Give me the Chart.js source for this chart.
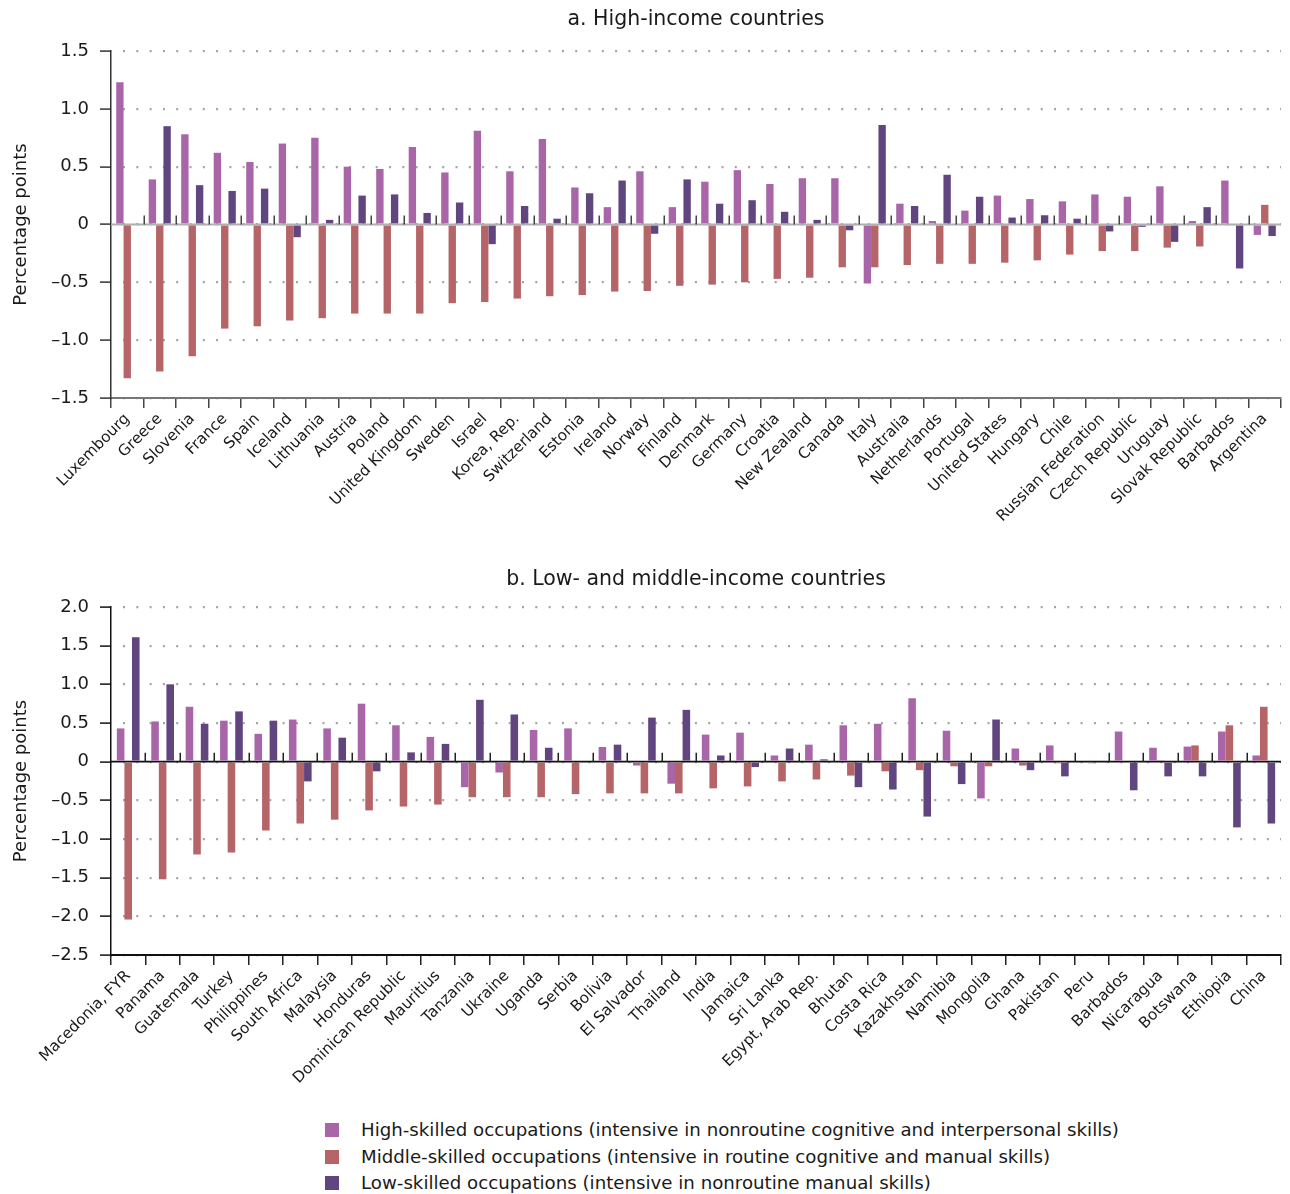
<!DOCTYPE html>
<html>
<head>
<meta charset="utf-8">
<script src="https://cdn.jsdelivr.net/npm/chart.js@4/dist/chart.umd.min.js"></script>
<style>
  html, body { margin: 0; padding: 0; background: #fff; }
  #wrap { position: relative; width: 1290px; height: 1194px; overflow: hidden; font-family: "DejaVu Sans", sans-serif; }
  #c1 { position: absolute; left: 0; top: 0; }
  #c2 { position: absolute; left: 0; top: 556px; }
  #legend { position: absolute; left: 325px; top: 1117px; font-size: 18.2px; color: #1a1a1a; }
  #legend div { height: 26.5px; line-height: 26.5px; white-space: nowrap; }
  #legend span.box { display: inline-block; width: 14px; height: 14px; margin-right: 22px; vertical-align: -1px; }
</style>
</head>
<body>
<div id="wrap">
  <canvas id="c1" width="1290" height="545"></canvas>
  <canvas id="c2" width="1290" height="540"></canvas>
  <div id="legend"></div>
</div>
<script>
// ---------- Data ----------
const highIncomeCountries = ["Luxembourg","Greece","Slovenia","France","Spain","Iceland","Lithuania","Austria","Poland","United Kingdom","Sweden","Israel","Korea, Rep.","Switzerland","Estonia","Ireland","Norway","Finland","Denmark","Germany","Croatia","New Zealand","Canada","Italy","Australia","Netherlands","Portugal","United States","Hungary","Chile","Russian Federation","Czech Republic","Uruguay","Slovak Republic","Barbados","Argentina"];
const highIncomeHigh   = [1.23,0.39,0.78,0.62,0.54,0.70,0.75,0.50,0.48,0.67,0.45,0.81,0.46,0.74,0.32,0.15,0.46,0.15,0.37,0.47,0.35,0.40,0.40,-0.51,0.18,0.03,0.12,0.25,0.22,0.20,0.26,0.24,0.33,0.03,0.38,-0.09];
const highIncomeMiddle = [-1.33,-1.27,-1.14,-0.90,-0.88,-0.83,-0.81,-0.77,-0.77,-0.77,-0.68,-0.67,-0.64,-0.62,-0.61,-0.58,-0.575,-0.53,-0.52,-0.50,-0.47,-0.46,-0.37,-0.37,-0.35,-0.34,-0.34,-0.33,-0.31,-0.26,-0.23,-0.23,-0.20,-0.19,-0.01,0.17];
const highIncomeLow    = [0.01,0.85,0.34,0.29,0.31,-0.11,0.04,0.25,0.26,0.10,0.19,-0.17,0.16,0.05,0.27,0.38,-0.08,0.39,0.18,0.21,0.11,0.04,-0.05,0.86,0.16,0.43,0.24,0.06,0.08,0.05,-0.06,-0.02,-0.15,0.15,-0.38,-0.10];

const lowMidCountries = ["Macedonia, FYR","Panama","Guatemala","Turkey","Philippines","South Africa","Malaysia","Honduras","Dominican Republic","Mauritius","Tanzania","Ukraine","Uganda","Serbia","Bolivia","El Salvador","Thailand","India","Jamaica","Sri Lanka","Egypt, Arab Rep.","Bhutan","Costa Rica","Kazakhstan","Namibia","Mongolia","Ghana","Pakistan","Peru","Barbados","Nicaragua","Botswana","Ethiopia","China"];
const lowMidHigh   = [0.43,0.52,0.71,0.53,0.36,0.545,0.43,0.75,0.47,0.32,-0.33,-0.14,0.41,0.43,0.19,-0.05,-0.285,0.35,0.375,0.08,0.22,0.47,0.49,0.82,0.40,-0.475,0.17,0.21,0.0,0.39,0.18,0.195,0.39,0.08];
const lowMidMiddle = [-2.04,-1.52,-1.20,-1.175,-0.89,-0.80,-0.75,-0.63,-0.58,-0.555,-0.46,-0.46,-0.46,-0.42,-0.41,-0.41,-0.41,-0.345,-0.32,-0.255,-0.23,-0.18,-0.125,-0.11,-0.06,-0.06,-0.05,-0.02,-0.02,0.0,0.01,0.21,0.47,0.71];
const lowMidLow    = [1.61,1.00,0.49,0.65,0.53,-0.255,0.31,-0.125,0.12,0.23,0.80,0.61,0.18,0.0,0.22,0.57,0.67,0.08,-0.07,0.17,0.03,-0.33,-0.36,-0.71,-0.29,0.545,-0.11,-0.19,0.0,-0.37,-0.19,-0.19,-0.85,-0.80];

const seriesNames = [
  "High-skilled occupations (intensive in nonroutine cognitive and interpersonal skills)",
  "Middle-skilled occupations (intensive in routine cognitive and manual skills)",
  "Low-skilled occupations (intensive in nonroutine manual skills)"
];
const seriesColors = ["#a866a8", "#b56468", "#60457f"];

const FONT = "DejaVu Sans";

// ---------- plugin: zero line + boundary ticks ----------
const zeroLinePlugin = {
  id: 'zeroLine',
  beforeDatasetsDraw(chart, args, opts) {
    const {ctx, chartArea, scales} = chart;
    const x = scales.x, y = scales.y;
    const y0 = y.getPixelForValue(0);
    ctx.save();
    ctx.strokeStyle = opts.color;
    ctx.lineWidth = opts.width;
    ctx.beginPath();
    ctx.moveTo(chartArea.left, y0);
    ctx.lineTo(chartArea.right, y0);
    ctx.stroke();
    ctx.strokeStyle = opts.tickColor;
    ctx.lineWidth = 1.5;
    const n = chart.data.labels.length;
    for (let i = 0; i < n - 1; i++) {
      const bx = Math.round((x.getPixelForValue(i) + x.getPixelForValue(i + 1)) / 2) + 0.25;
      ctx.beginPath();
      ctx.moveTo(bx, y0);
      ctx.lineTo(bx, y0 - opts.tickLen);
      ctx.stroke();
    }
    ctx.restore();
  }
};

function fmt(v) {
  if (Math.abs(v) < 1e-9) return "0";
  const s = Math.abs(v).toFixed(1);
  return v < 0 ? "\u2013" + s : s;
}

function makeChart(id, cfg) {
  return new Chart(document.getElementById(id), {
    type: 'bar',
    data: {
      labels: cfg.labels,
      datasets: cfg.values.map((vals, k) => ({
        label: seriesNames[k],
        data: vals,
        backgroundColor: seriesColors[k],
        borderWidth: 0,
        categoryPercentage: cfg.catPct,
        barPercentage: 1.0
      }))
    },
    plugins: [zeroLinePlugin],
    options: {
      responsive: false,
      animation: false,
      devicePixelRatio: 1,
      layout: { padding: { left: 0, right: 9, top: 0, bottom: 0 } },
      plugins: {
        legend: { display: false },
        tooltip: { enabled: false },
        title: {
          display: true,
          fullSize: false,
          text: cfg.title,
          color: '#1a1a1a',
          font: { family: FONT, size: 20.5, weight: 'normal', lineHeight: 1.2 },
          padding: cfg.titlePad
        },
        zeroLine: { color: cfg.zeroColor, width: cfg.zeroWidth, tickColor: cfg.tickColor, tickLen: 9 }
      },
      scales: {
        x: {
          grid: { display: true, drawOnChartArea: false, drawTicks: true, tickLength: 10, color: cfg.tickColor, lineWidth: 1.5, offset: true },
          border: { display: true, color: cfg.xAxisColor, width: 2 },
          ticks: { autoSkip: false, maxRotation: 45, minRotation: 45, padding: 2, color: '#1a1a1a', font: { family: FONT, size: 15.3 } },
          afterFit(scale) { scale.height = cfg.xHeight; }
        },
        y: {
          min: cfg.min, max: cfg.max,
          grid: { display: true, drawOnChartArea: true, drawTicks: true, tickLength: 11, color: '#a3a3a3', lineWidth: 2.2, tickColor: cfg.yAxisColor, tickWidth: 1.5 },
          border: { display: true, color: cfg.yAxisColor, width: 1.5, dash: [2, 11.3], dashOffset: -11.5 },
          ticks: { stepSize: 0.5, padding: 11, color: '#1a1a1a', font: { family: FONT, size: 18 }, callback: (v) => fmt(v) },
          title: { display: true, text: 'Percentage points', color: '#1a1a1a', font: { family: FONT, size: 18 }, padding: { top: 11, bottom: 0 } },
          afterFit(scale) { scale.width = 111; }
        }
      }
    }
  });
}

makeChart('c1', {
  labels: highIncomeCountries,
  values: [highIncomeHigh, highIncomeMiddle, highIncomeLow],
  title: 'a. High-income countries',
  titlePad: { top: 7, bottom: 19.4 },
  min: -1.5, max: 1.5,
  catPct: 0.68,
  xHeight: 147,
  zeroColor: '#b0b0b0', zeroWidth: 2,
  tickColor: '#444', xAxisColor: '#777', yAxisColor: '#333'
});

makeChart('c2', {
  labels: lowMidCountries,
  values: [lowMidHigh, lowMidMiddle, lowMidLow],
  title: 'b. Low- and middle-income countries',
  titlePad: { top: 11, bottom: 15.4 },
  min: -2.5, max: 2.0,
  catPct: 0.66,
  xHeight: 141,
  zeroColor: '#111', zeroWidth: 1.6,
  tickColor: '#222', xAxisColor: '#111', yAxisColor: '#111'
});

// ---------- legend ----------
const leg = document.getElementById('legend');
seriesNames.forEach((name, k) => {
  const row = document.createElement('div');
  const box = document.createElement('span');
  box.className = 'box';
  box.style.background = seriesColors[k];
  row.appendChild(box);
  row.appendChild(document.createTextNode(name));
  leg.appendChild(row);
});
</script>
</body>
</html>
